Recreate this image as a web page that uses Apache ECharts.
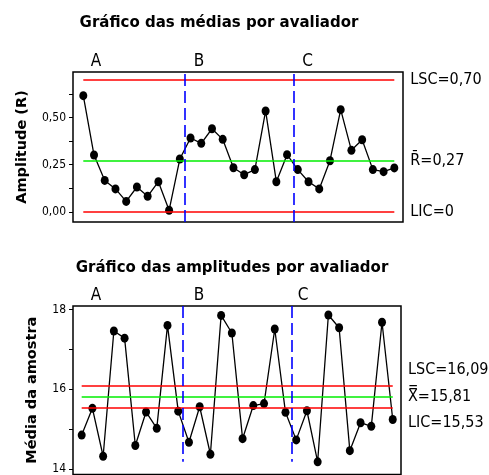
<!DOCTYPE html>
<html><head><meta charset="utf-8">
<script src="https://cdn.jsdelivr.net/npm/echarts@6/dist/echarts.min.js"></script>
<style>html,body{margin:0;padding:0;background:#fff}#c{width:489px;height:475px}</style>
</head><body><div id="c"></div>
<script>
// ---- data ----
const operators = ['A', 'B', 'C'];
const rangeValues = [0.615, 0.301, 0.167, 0.122, 0.056, 0.132, 0.083, 0.160, 0.009, 0.280,
                     0.391, 0.363, 0.440, 0.384, 0.234, 0.197, 0.224, 0.534, 0.160, 0.303,
                     0.224, 0.160, 0.122, 0.271, 0.541, 0.326, 0.382, 0.224, 0.213, 0.233];
const meanValues = [14.85, 15.52, 14.32, 17.46, 17.28, 14.59, 15.43, 15.02, 17.60, 15.45,
                    14.67, 15.56, 14.37, 17.85, 17.41, 14.76, 15.59, 15.64, 17.51, 15.42,
                    14.73, 15.46, 14.18, 17.86, 17.54, 14.46, 15.16, 15.07, 17.68, 15.24];
const rLimitValues = [0.70, 0.27, 0];
const rLimitLabels = ['LSC=0,70', 'R\u0304=0,27', 'LIC=0'];
const xLimitValues = [16.09, 15.81, 15.53];
const xLimitLabels = ['LSC=16,09', 'X\u033F=15,81', 'LIC=15,53'];
const dividers = [9.45, 19.6];
const rTickLabels = [0, 0.25, 0.5];
const rTicks = [0, 0.125, 0.25, 0.375, 0.5, 0.625];
const xTickLabels = [14, 16, 18];
const xTicks = [14, 15, 16, 17, 18];
const titles = ['Gráfico das médias por avaliador', 'Gráfico das amplitudes por avaliador'];
const yNames = ['Amplitude (R)', 'Média da amostra'];

// ---- chart ----
const FONT = 'DejaVu Sans';
const CFONT = '"DejaVu Sans Condensed", "DejaVu Sans"';
const chart = echarts.init(document.getElementById('c'), null, {renderer: 'canvas'});
const fmt = (d) => (v) => v.toFixed(d).replace('.', ',');
const n = rangeValues.length;

function yAxisCfg(idx, min, max, labels, ticks, dec, gap) {
  return {
    type: 'value', gridIndex: idx, min: min, max: max,
    name: yNames[idx], nameLocation: 'middle', nameRotate: 90, nameGap: gap,
    nameTextStyle: {fontFamily: FONT, fontWeight: 'bold', fontSize: 14.5, color: '#000'},
    axisLine: {show: false, onZero: false},
    splitLine: {show: false},
    axisTick: {show: true, length: 4, customValues: ticks, lineStyle: {color: '#000', width: 1}},
    axisLabel: {show: true, customValues: labels, formatter: fmt(dec), margin: 7,
                fontFamily: CFONT, fontSize: 12, color: '#000'}
  };
}
function xAxisCfg(idx, min, max) {
  return {type: 'value', gridIndex: idx, min: min, max: max, show: true,
          axisLine: {show: false, onZero: false}, axisTick: {show: false}, axisLabel: {show: false}, splitLine: {show: false}};
}
const hLineStyle = (c) => ({color: c, width: 1.6, type: 'solid'});
const dashStyle = {color: '#0000ff', width: 1.6, type: [12, 5]};

function hLines(values, labels, showLabel) {
  return values.map((v, i) => [
    {coord: [0, v], lineStyle: hLineStyle(i === 1 ? '#00ee00' : '#ff0000')},
    {coord: [n - 1, v], label: {show: showLabel, position: 'end', distance: 16, formatter: labels[i],
       fontFamily: CFONT, fontSize: 16, color: '#000'}}
  ]);
}
const txt = (s, x, y, font, align) => ({type: 'text', x: x, y: y, z: 10,
  style: {text: s, font: font, fill: '#000', align: align || 'center', verticalAlign: 'middle'}});
const LFONT = '16px "DejaVu Sans Condensed", "DejaVu Sans"';
const OFONT = '17px "DejaVu Sans Condensed", "DejaVu Sans"';

const option = {
  animation: false,
  backgroundColor: '#fff',
  grid: [
    {left: 73, top: 72, width: 330, height: 150, show: true, borderColor: '#000', borderWidth: 1.5, backgroundColor: 'transparent'},
    {left: 73, top: 306, width: 328, height: 172, show: true, borderColor: '#000', borderWidth: 1.5, backgroundColor: 'transparent'}
  ],
  xAxis: [xAxisCfg(0, -0.96, 29.81), xAxisCfg(1, -0.81, 29.77)],
  yAxis: [
    yAxisCfg(0, -0.053, 0.74, rTickLabels, rTicks, 2, 43),
    yAxisCfg(1, 13.865, 18.086, xTickLabels, xTicks, 0, 33)
  ],
  graphic: [
    txt(titles[0], 219, 23, 'bold 15px "DejaVu Sans"'),
    txt(titles[1], 232, 268, 'bold 15px "DejaVu Sans"'),
    txt(operators[0], 96, 62, OFONT), txt(operators[1], 199, 62, OFONT), txt(operators[2], 307.5, 62, OFONT),
    txt(operators[0], 96, 296, OFONT), txt(operators[1], 199, 296, OFONT), txt(operators[2], 303, 296, OFONT),
    txt(xLimitLabels[0], 408, 370, LFONT, 'left'),
    txt(xLimitLabels[1], 408, 397, LFONT, 'left'),
    txt(xLimitLabels[2], 408, 423, LFONT, 'left')
  ],
  series: [
    {
      type: 'line', xAxisIndex: 0, yAxisIndex: 0, data: [], z: 1, silent: true,
      markLine: {silent: true, symbol: 'none', animation: false,
        data: hLines(rLimitValues, rLimitLabels, true).concat(
          dividers.map(d => ({xAxis: d, lineStyle: dashStyle, label: {show: false}})))}
    },
    {
      type: 'line', xAxisIndex: 0, yAxisIndex: 0, z: 3,
      data: rangeValues.map((v, i) => [i, v]),
      symbol: 'circle', symbolSize: [8, 9], showSymbol: true,
      lineStyle: {color: '#000', width: 1.3}, itemStyle: {color: '#000'}
    },
    {
      type: 'line', xAxisIndex: 1, yAxisIndex: 1, data: [], z: 1, silent: true,
      markLine: {silent: true, symbol: 'none', animation: false,
        data: hLines(xLimitValues, xLimitLabels, false).concat(
          dividers.map(d => [{coord: [d, 18.086], lineStyle: dashStyle, label: {show: false}}, {coord: [d, 14.18]}]))}
    },
    {
      type: 'line', xAxisIndex: 1, yAxisIndex: 1, z: 3,
      data: meanValues.map((v, i) => [i, v]),
      symbol: 'circle', symbolSize: [8, 9], showSymbol: true,
      lineStyle: {color: '#000', width: 1.3}, itemStyle: {color: '#000'}
    }
  ]
};
chart.setOption(option);
</script>
</body></html>
